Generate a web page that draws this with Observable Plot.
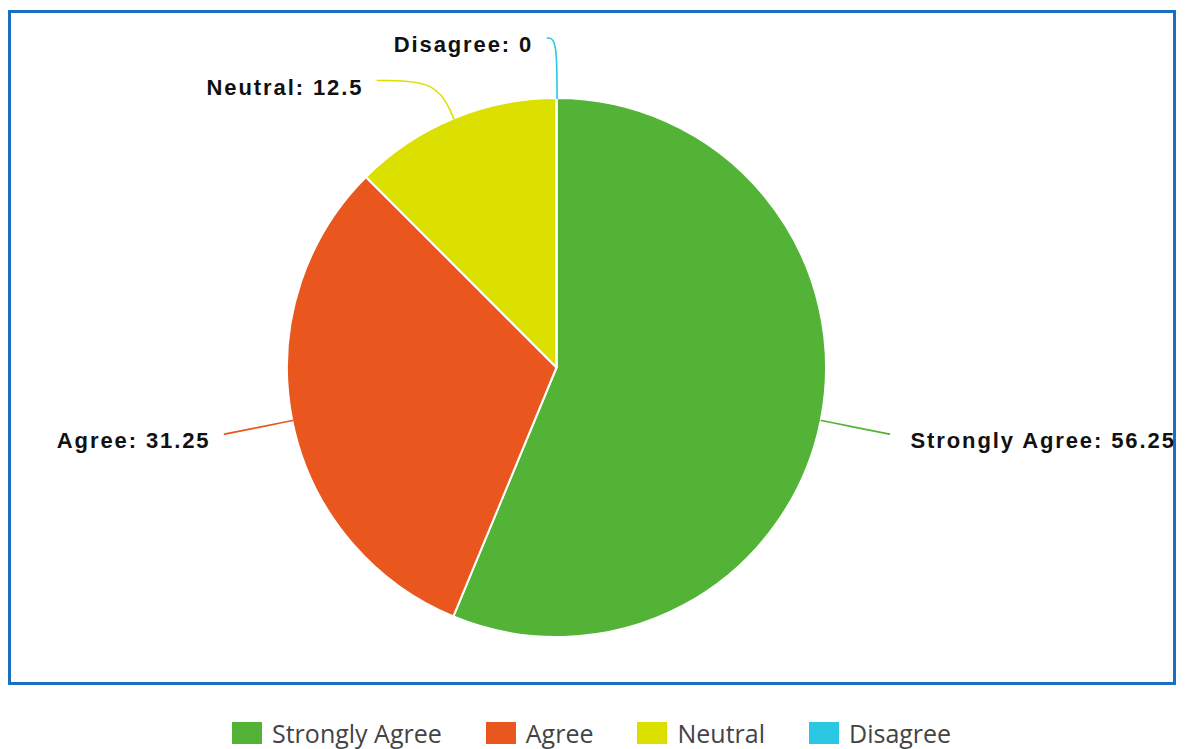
<!DOCTYPE html>
<html><head><meta charset="utf-8">
<script src="https://cdn.jsdelivr.net/npm/d3@7"></script>
<script src="https://cdn.jsdelivr.net/npm/@observablehq/plot@0.6"></script>
<style>
html,body{margin:0;padding:0;background:#fff;}
body{width:1194px;height:749px;position:relative;overflow:hidden;}
#frame{position:absolute;left:8px;top:10px;width:1168px;height:675px;box-sizing:border-box;border:3.5px solid #1a6fc2;}
#chart{position:absolute;left:0;top:0;}
#legend{position:absolute;left:232px;top:716px;}
#legend, #legend *{font-family:"Open Sans",sans-serif !important;font-size:25px !important;color:#444 !important;}
#legend span{margin-right:44px !important;}
#legend svg{margin-right:10px !important;}
.pie text{letter-spacing:1.9px;}
</style></head><body>
<div id="frame"></div>
<div id="chart"></div>
<div id="legend"></div>
<script>
// ---- data ----
const categories = ["Strongly Agree", "Agree", "Neutral", "Disagree"];
const values = [56.25, 31.25, 12.5, 0];
const colors = ["#53b337", "#e9561e", "#dce000", "#29c7e2"];

// ---- layout (not data) ----
const layout = {
  cx: 556.5, cy: 367.5, r: 269.5,
  labelRadius: 1.258,
  labelRadiusOverride: {"Disagree": 1.225},
  labelShiftDeg: {"Neutral": -9.5, "Disagree": -1.7},
  gapRight: 21, gapLeft: 14
};

const data = categories.map((c, i) => ({category: c, value: values[i]}));
const arcs = d3.pie().sort(null).value(d => d.value)(data);

const leaderRows = [];
const labelRows = [];
arcs.forEach(a => {
  const c = a.data.category;
  const mid = (a.startAngle + a.endAngle) / 2;
  const shift = (layout.labelShiftDeg[c] || 0) * Math.PI / 180;
  const R = layout.labelRadiusOverride[c] || layout.labelRadius;
  const th = mid + shift;
  const p0 = [Math.sin(mid), -Math.cos(mid)];
  const p2 = [Math.sin(th) * R, -Math.cos(th) * R];
  let pc = p2;
  if (Math.abs(Math.cos(mid)) > 0.05) {
    const t = -p2[1] / Math.cos(mid);
    if (t > 1) pc = [t * Math.sin(mid), -t * Math.cos(mid)];
  }
  [p0, pc, p2].forEach((p, k) => leaderRows.push({category: c, x: p[0], y: p[1], k}));
  const side = p2[0] >= 0 ? "right" : "left";
  const gap = (side === "right" ? layout.gapRight : -layout.gapLeft) / layout.r;
  labelRows.push({category: c, value: a.data.value, side, x: p2[0] + gap, y: p2[1]});
});

function pieSlices(index, scales) {
  const sx = scales && scales.x ? scales.x : (v => layout.cx + v * layout.r);
  const sy = scales && scales.y ? scales.y : (v => layout.cy + v * layout.r);
  const col = scales && scales.color ? scales.color : (c => colors[categories.indexOf(c)]);
  const cx = sx(0), cy = sy(0), rr = sx(1) - sx(0);
  const arc = d3.arc().innerRadius(0).outerRadius(rr);
  const g = d3.create("svg:g").attr("transform", `translate(${cx},${cy})`);
  g.selectAll("path").data(arcs).join("path")
    .attr("d", arc)
    .attr("fill", d => col(d.data.category))
    .attr("stroke", "#fff")
    .attr("stroke-width", 2)
    .attr("stroke-linejoin", "round");
  return g.node();
}

const labelText = d => `${d.category}: ${d.value}`;
const textOpts = {fontSize: 22, fontWeight: "bold", fontFamily: "Liberation Sans, Arial, sans-serif", fill: "#111", dy: 7};

const chart = Plot.plot({
  width: 1194,
  height: 690,
  margin: 0,
  className: "pie",
  style: {background: "transparent", overflow: "visible"},
  x: {domain: [-1, 1], range: [layout.cx - layout.r, layout.cx + layout.r], axis: null},
  y: {domain: [-1, 1], range: [layout.cy - layout.r, layout.cy + layout.r], axis: null},
  color: {domain: categories, range: colors},
  marks: [
    pieSlices,
    Plot.line(leaderRows, {x: "x", y: "y", z: "category", stroke: "category", strokeWidth: 1.6, curve: "basis"}),
    Plot.text(labelRows.filter(d => d.side === "right"), {x: "x", y: "y", text: labelText, textAnchor: "start", ...textOpts}),
    Plot.text(labelRows.filter(d => d.side === "left"), {x: "x", y: "y", text: labelText, textAnchor: "end", ...textOpts})
  ]
});
document.getElementById("chart").appendChild(chart);

const legend = Plot.legend({
  color: {type: "categorical", domain: categories, range: colors},
  swatchWidth: 30,
  swatchHeight: 22,
  className: "lg"
});
document.getElementById("legend").appendChild(legend);
</script>
</body></html>
